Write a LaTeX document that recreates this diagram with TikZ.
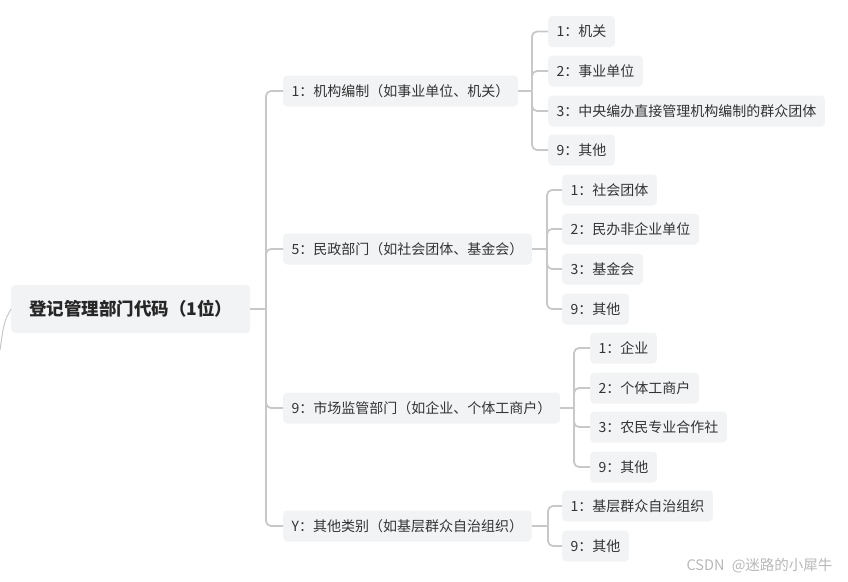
\documentclass[tikz,border=0pt]{standalone}
\usepackage{fontspec}
\setmainfont{Noto Sans CJK SC}
\definecolor{boxbg}{HTML}{F2F3F5}
\definecolor{linec}{HTML}{C8C8C8}
\definecolor{txt}{HTML}{333333}
\begin{document}
\begin{tikzpicture}[x=1pt,y=-1pt,
  box/.style={fill=boxbg, rounded corners=4pt, anchor=west, minimum height=31pt, inner xsep=8.5pt, inner ysep=0pt, text=txt, font=\fontsize{14}{16}\selectfont},
  rootbox/.style={box, minimum height=48pt, minimum width=239pt, inner xsep=16pt, text=black!85, font=\fontsize{17.5}{20}\selectfont\bfseries},
  conn/.style={draw=linec, line width=1.8pt, rounded corners=5pt},
  wmark/.style={anchor=east, text=black!28, font=\fontsize{14.5}{16}\selectfont}]
\useasboundingbox (0,0) rectangle (848,581);
% root
\node[rootbox] (r) at (11,309) {登记管理部门代码（1位）};
% level 1
\node[box] (a) at (283,91) {1：机构编制（如事业单位、机关）};
\node[box] (b) at (283,249) {5：民政部门（如社会团体、基金会）};
\node[box] (c) at (283,408) {9：市场监管部门（如企业、个体工商户）};
\node[box] (d) at (283,526) {Y：其他类别（如基层群众自治组织）};
% level 2 (a)
\node[box] (a1) at (548,31.5) {1：机关};
\node[box] (a2) at (548,71) {2：事业单位};
\node[box] (a3) at (548,111) {3：中央编办直接管理机构编制的群众团体};
\node[box] (a4) at (548,150) {9：其他};
% level 2 (b)
\node[box] (b1) at (562,190) {1：社会团体};
\node[box] (b2) at (562,229) {2：民办非企业单位};
\node[box] (b3) at (562,269) {3：基金会};
\node[box] (b4) at (562,309) {9：其他};
% level 2 (c)
\node[box] (c1) at (590,348) {1：企业};
\node[box] (c2) at (590,388) {2：个体工商户};
\node[box] (c3) at (590,427) {3：农民专业合作社};
\node[box] (c4) at (590,467) {9：其他};
% level 2 (d)
\node[box] (d1) at (562,506) {1：基层群众自治组织};
\node[box] (d2) at (562,546) {9：其他};
% trunks
\coordinate (t0) at (266,309);
\coordinate (ta) at (532,91);
\coordinate (tb) at (547,249);
\coordinate (tc) at (574,408);
\coordinate (td) at (548,526);
\coordinate (lc) at (0,350);
% connectors
\draw[draw=linec, line width=1pt] (lc) .. controls (4,322) .. (r.west);
\draw[conn] (r.east) -- (t0);
\foreach \n in {a,b,c,d} \draw[conn] (t0) |- (\n.west);
\draw[conn] (a.east) -- (ta);
\foreach \n in {a1,a2,a3,a4} \draw[conn] (ta) |- (\n.west);
\draw[conn] (b.east) -- (tb);
\foreach \n in {b1,b2,b3,b4} \draw[conn] (tb) |- (\n.west);
\draw[conn] (c.east) -- (tc);
\foreach \n in {c1,c2,c3,c4} \draw[conn] (tc) |- (\n.west);
\draw[conn] (d.east) -- (td);
\foreach \n in {d1,d2} \draw[conn] (td) |- (\n.west);
% watermark
\node[wmark] (wm) at (836,566) {CSDN\hspace{0.5em}@迷路的小犀牛};
\end{tikzpicture}
\end{document}
